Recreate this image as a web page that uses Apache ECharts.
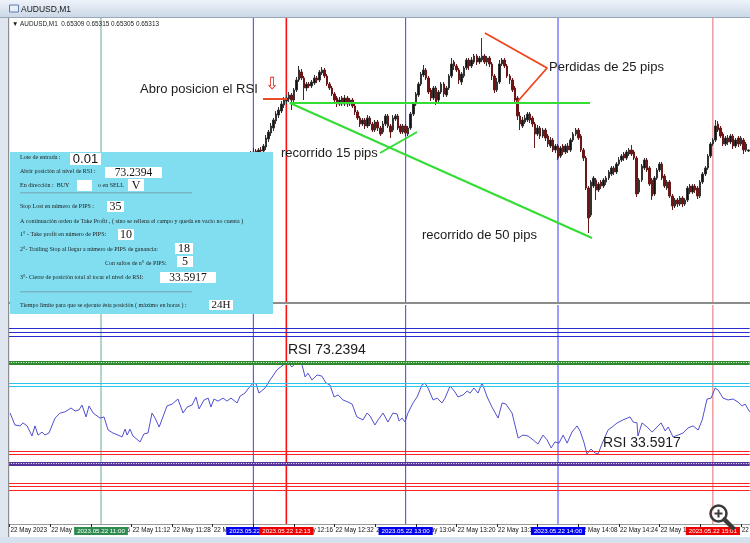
<!DOCTYPE html>
<html><head><meta charset="utf-8">
<script src="https://cdn.jsdelivr.net/npm/echarts@6/dist/echarts.min.js"></script>
<style>html,body{margin:0;padding:0;background:#fff}#c{width:750px;height:543px}</style>
</head><body><div id="c"></div><script>
// ---------- DATA ----------
// M1 categories from 10:24 to 15:15
const firstMinute = 10 * 60 + 24;
const minuteCount = 292;
const pad = n => (n < 10 ? '0' : '') + n;
const categories = [];
for (let i = 0; i < minuteCount; i++) { const t = firstMinute + i; categories.push(pad(Math.floor(t / 60)) + ':' + pad(t % 60)); }
const firstDateLabel = '22 May 2023';
const dayPrefix = '22 May ';

// Candles from 11:57, [open, close, low, high] in points (1e-5)
const candleStart = '11:57';
const ohlc = [
[65273,65281,65257,65293],[65281,65289,65269,65301],[65289,65297,65277,65309],[65293,65305,65281,65321],
[65309,65301,65289,65317],[65301,65313,65293,65321],[65313,65309,65297,65325],[65309,65329,65301,65337],
[65325,65361,65313,65373],[65357,65385,65345,65393],[65381,65409,65369,65421],[65401,65433,65389,65441],
[65429,65457,65417,65469],[65453,65473,65441,65485],[65469,65497,65461,65509],[65493,65513,65481,65525],
[65509,65521,65497,65533],[65517,65533,65505,65545],[65533,65513,65473,65541],[65513,65553,65505,65561],
[65553,65593,65545,65605],[65593,65633,65585,65649],[65625,65601,65593,65637],[65601,65561,65513,65609],
[65561,65577,65549,65585],[65577,65569,65561,65585],[65569,65585,65561,65593],[65581,65601,65573,65613],
[65601,65593,65581,65609],[65593,65625,65585,65633],[65621,65633,65613,65645],[65633,65609,65601,65641],
[65609,65577,65569,65617],[65577,65561,65553,65585],[65561,65537,65529,65569],[65537,65513,65505,65545],
[65521,65497,65485,65529],[65497,65513,65489,65525],[65521,65497,65489,65529],[65497,65521,65489,65533],
[65521,65497,65485,65529],[65497,65513,65489,65521],[65513,65489,65481,65521],[65489,65465,65453,65497],
[65465,65441,65433,65473],[65441,65417,65405,65449],[65417,65433,65409,65441],[65433,65409,65397,65441],
[65409,65441,65401,65453],[65441,65417,65409,65449],[65417,65393,65385,65425],[65393,65425,65385,65433],
[65425,65401,65389,65433],[65401,65377,65369,65409],[65385,65417,65377,65429],[65417,65449,65409,65457],
[65449,65409,65401,65457],[65409,65385,65361,65417],[65393,65441,65385,65453],[65437,65449,65429,65457],
[65449,65401,65393,65457],[65409,65385,65377,65417],[65385,65409,65377,65417],[65409,65381,65369,65417],
[65377,65401,65369,65409],[65401,65457,65393,65465],[65457,65497,65449,65505],[65497,65537,65489,65545],
[65533,65577,65525,65585],[65577,65617,65569,65625],[65613,65633,65605,65653],[65633,65601,65593,65641],
[65601,65545,65537,65609],[65553,65521,65509,65561],[65521,65561,65513,65569],[65561,65505,65493,65569],
[65513,65545,65505,65553],[65545,65577,65537,65585],[65577,65537,65525,65585],[65533,65561,65525,65569],
[65561,65609,65553,65617],[65609,65657,65601,65681],[65665,65649,65633,65673],[65649,65633,65625,65657],
[65633,65593,65577,65641],[65585,65617,65573,65625],[65609,65641,65601,65649],[65641,65673,65633,65681],
[65673,65649,65633,65681],[65649,65673,65641,65685],[65665,65689,65657,65697],[65689,65665,65653,65697],
[65665,65681,65657,65689],[65673,65689,65665,65761],[65689,65665,65657,65697],[65665,65681,65649,65689],
[65681,65657,65645,65689],[65657,65609,65593,65665],[65609,65553,65541,65617],[65553,65585,65545,65601],
[65585,65657,65577,65673],[65657,65673,65649,65681],[65673,65649,65641,65681],[65649,65609,65601,65657],
[65609,65593,65577,65617],[65593,65553,65545,65601],[65561,65513,65501,65569],[65521,65449,65433,65529],
[65449,65417,65393,65465],[65409,65433,65401,65445],[65425,65441,65417,65453],[65433,65457,65425,65465],
[65457,65433,65421,65465],[65441,65417,65405,65449],[65417,65377,65321,65425],[65377,65401,65369,65413],
[65401,65369,65357,65409],[65369,65393,65361,65401],[65393,65361,65349,65401],[65369,65337,65325,65377],
[65329,65353,65321,65365],[65353,65313,65305,65361],[65313,65329,65301,65337],[65329,65281,65273,65337],
[65289,65321,65281,65329],[65329,65305,65293,65337],[65305,65329,65297,65337],[65329,65313,65301,65341],
[65313,65353,65305,65361],[65353,65377,65345,65385],[65377,65393,65369,65401],[65393,65361,65353,65401],
[65369,65313,65305,65377],[65313,65281,65269,65321],[65281,65161,65153,65289],[65161,65041,64981,65169],
[65053,65185,65045,65193],[65169,65201,65161,65209],[65193,65153,65113,65201],[65153,65177,65145,65185],
[65185,65169,65157,65193],[65169,65193,65161,65201],[65185,65201,65173,65209],[65201,65225,65193,65233],
[65217,65241,65209,65249],[65241,65225,65213,65249],[65225,65257,65217,65265],[65257,65273,65249,65285],
[65273,65289,65265,65297],[65297,65281,65269,65305],[65281,65305,65273,65313],[65297,65313,65289,65321],
[65313,65297,65289,65333],[65305,65281,65273,65313],[65281,65137,65125,65289],[65145,65193,65137,65201],
[65193,65249,65185,65257],[65241,65273,65233,65281],[65273,65233,65225,65281],[65241,65177,65169,65249],
[65193,65129,65113,65201],[65137,65201,65129,65209],[65201,65233,65193,65241],[65233,65257,65225,65265],
[65257,65201,65193,65265],[65209,65169,65161,65217],[65161,65185,65153,65193],[65185,65129,65121,65193],
[65129,65089,65073,65137],[65089,65113,65081,65121],[65113,65097,65085,65121],[65097,65121,65089,65129],
[65121,65097,65085,65129],[65097,65113,65089,65121],[65113,65161,65105,65169],[65169,65145,65137,65177],
[65145,65169,65137,65177],[65169,65153,65141,65177],[65161,65129,65117,65169],[65129,65185,65121,65193],
[65185,65217,65177,65225],[65217,65241,65209,65249],[65241,65289,65233,65297],[65289,65337,65281,65345],
[65337,65353,65329,65361],[65353,65409,65345,65433],[65417,65393,65385,65429],[65401,65369,65361,65409],
[65377,65337,65329,65385],[65337,65361,65329,65369],[65361,65345,65333,65373],[65345,65369,65337,65377],
[65369,65329,65317,65377],[65329,65353,65321,65361],[65361,65337,65325,65369],[65337,65361,65329,65369],
[65353,65313,65297,65361],[65313,65337,65305,65345],[65309,65313,65305,65315]
];

// RSI line vertices: time in minutes after 10:00, RSI value
const rsiTime = [24.2,26.1,28.1,29.3,30.9,32.8,34.0,35.2,36.8,37.9,39.5,41.9,43.9,45.8,48.2,49.8,51.3,52.5,54.1,55.3,
56.9,59.6,61.2,62.8,64.7,66.7,68.3,69.5,70.3,71.4,72.6,75.4,76.9,78.5,80.1,81.3,82.9,84.4,86.0,88.0,
90.3,92.3,93.9,95.9,97.4,98.6,100.6,102.2,103.3,104.5,106.1,108.1,109.6,111.2,113.6,114.8,116.7,117.9,119.9,121.1,
122.2,124.6,126.6,129.3,131.7,133.3,135.2,137.6,139.2,140.4,141.5,143.1,145.1,147.0,148.6,150.2,151.8,153.4,155.3,157.3,
158.9,160.8,163.2,164.8,166.0,167.9,169.1,171.1,173.0,175.0,176.6,177.4,178.6,179.7,180.9,182.9,184.5,186.4,187.6,188.8,
190.8,192.4,194.3,195.5,197.5,199.4,200.6,202.6,204.2,205.4,206.9,208.5,210.1,212.1,214.0,216.4,218.0,219.5,221.9,224.3,
226.2,228.2,230.2,232.1,234.1,235.7,237.3,238.8,240.4,242.0,243.6,245.5,247.5,248.7,250.3,251.4,253.0,254.6,255.8,257.3,
259.7,261.3,263.3,265.6,268.4,269.6,271.1,271.5,273.1,275.1,277.1,279.0,280.6,282.2,283.4,285.3,287.3,289.3,291.2,293.2,
295.2,296.8,298.7,300.3,301.9,303.1,305.0,307.0,309.0,310.9,312.5,313.7,315.5];
const rsiValue = [51.0,45.8,45.4,46.7,45.4,41.0,45.4,41.4,42.7,41.4,42.3,48.8,51.0,51.5,53.2,51.9,52.3,54.5,49.3,54.1,
51.0,48.8,49.3,43.6,42.3,41.4,40.6,44.0,41.4,44.0,41.0,38.4,41.9,42.3,51.0,48.8,44.9,49.3,54.1,54.9,
57.1,51.0,53.6,54.5,58.0,52.8,56.7,57.5,53.6,57.1,56.2,57.5,56.2,57.5,55.4,58.4,59.7,61.5,64.1,63.7,
59.7,61.9,65.4,69.8,71.9,73.24,71.1,73.7,71.9,66.7,68.4,65.4,67.6,67.1,64.1,63.2,58.0,58.9,56.7,55.8,
54.9,49.3,48.0,51.0,49.7,45.8,48.0,51.0,47.1,51.0,50.6,47.5,48.8,47.1,51.0,55.4,58.0,63.2,64.1,61.9,
56.7,57.5,55.4,57.5,62.8,60.2,58.0,58.9,60.6,59.7,61.9,59.7,64.1,58.0,53.6,48.8,55.4,54.9,51.0,40.1,
41.4,41.0,39.3,37.5,41.4,39.3,35.8,38.4,37.9,41.4,37.9,42.7,45.4,43.2,37.9,33.2,35.3,33.6,33.2,37.5,
43.6,44.9,46.7,48.0,49.3,47.1,46.7,41.0,46.7,44.9,42.7,44.9,46.7,43.2,44.9,40.6,41.4,42.3,44.5,45.4,
43.6,48.0,57.1,57.5,61.9,61.0,57.5,56.7,57.1,55.8,54.1,54.9,51.5];

// RSI horizontal levels
const blueLevels = [87.9, 86.1, 84.4];
const greenDottedLevel = 73.1;
const cyanLevels = [64.0, 62.6];
const redLevels = [34.5, 33.0];
const purpleDottedLevel = 29.0;
const redLowLevels = [20.5, 18.9, 17.3];

// vertical time markers: minutes after 10:00 and their labels
const markTimes = [60, 120, 180, 240, 133, 301];
const markLabels = ['2023.05.22 11:00', '2023.05.22 12:00', '2023.05.22 13:00', '2023.05.22 14:00', '2023.05.22 12:13', '2023.05.22 15:01'];

// drawn trend lines: [minutes after 10:00, price points]
const entryLevelLine = [[134.4, 65501], [252.6, 65501]];
const run50Line = [[134.4, 65501], [253.4, 64961]];
const run15Line = [[169.9, 65301], [184.5, 65385]];
const entryTick = [[123.8, 65517], [133.3, 65517]];
const lossLine = [[211.2, 65781], [235.7, 65641], [223.9, 65505]];

// ---------- CHART ----------
const startIdx = categories.indexOf(candleStart);
const candleData = categories.map((c, i) => (i < startIdx || i - startIdx >= ohlc.length) ? '-' : ohlc[i - startIdx].map(v => v / 1e5));
const toPrice = arr => arr.map(p => [p[0], p[1] / 1e5]);
const rsiData = rsiTime.map((t, i) => [t, rsiValue[i]]);

const gridLeft = 8.33, gridWidth = 741.36;
const tMin = 23.5, tMax = 315.5;
const priceMin = 0.64701, priceMax = 0.65841;
const rsiMin = 2.65, rsiMax = 98.08;

const markStyle = [
  { line: '#6aa888', box: '#2e8b4f', w: 1 },
  { line: '#3c3cff', box: '#0000ee', w: 1 },
  { line: '#3c3cff', box: '#0000ee', w: 1 },
  { line: '#3c3cff', box: '#0000ee', w: 1 },
  { line: '#ff1010', box: '#ee0000', w: 1.6 },
  { line: '#e86a6a', box: '#ee0000', w: 1 }
];

function hl(v, color, width, type) { return { yAxis: v, lineStyle: { color, width, type: type || 'solid' } }; }

const rsiMarks = [];
blueLevels.forEach(v => rsiMarks.push(hl(v, '#2a2ad0', 1.2)));
rsiMarks.push(hl(greenDottedLevel, '#2d8a2d', 4));
rsiMarks.push(hl(greenDottedLevel, '#ffffff', 1, [1, 1.5]));
cyanLevels.forEach(v => rsiMarks.push(hl(v, '#2cc4ee', 1.2)));
redLevels.forEach(v => rsiMarks.push(hl(v, '#ff2222', 1.2)));
rsiMarks.push(hl(purpleDottedLevel, '#553399', 4));
rsiMarks.push(hl(purpleDottedLevel, '#ffffff', 1, [1, 1.5]));
redLowLevels.forEach(v => rsiMarks.push(hl(v, '#ff2222', 1.2)));

// vertical marker lines as small series in each panel
const verticalSeries = [];
markTimes.forEach((t, k) => {
  const s = markStyle[k];
  verticalSeries.push({ type: 'line', xAxisIndex: 1, yAxisIndex: 0, data: [[t, priceMin], [t, priceMax]], symbol: 'none',
    silent: true, z: 2, lineStyle: { color: s.line, width: s.w } });
  verticalSeries.push({ type: 'line', xAxisIndex: 3, yAxisIndex: 1, data: [[t, rsiMin], [t, rsiMax]], symbol: 'none',
    silent: true, z: 2 + (k >= 4 ? 1 : 0), lineStyle: { color: s.line, width: s.w },
    markPoint: { silent: true, symbol: 'rect', symbolSize: 0,
      data: [{ coord: [t, rsiMin], label: { show: true, position: 'bottom', distance: 3, formatter: markLabels[k],
        color: '#fff', backgroundColor: s.box, padding: [1, 3, 1, 3], fontSize: 6.2, fontFamily: 'Liberation Sans' } }] } });
});

function annot(data, color, width) {
  return { type: 'line', xAxisIndex: 1, yAxisIndex: 0, data: toPrice(data), symbol: 'none', silent: true,
    lineStyle: { color, width }, z: 5, animation: false };
}

const F = '"Liberation Sans", Arial, sans-serif';
const SERIF = '"Liberation Serif", "Times New Roman", serif';
function txt(text, x, y, size, family, color, align, z) {
  return { type: 'text', z: z || 210, silent: true,
    style: { text, x, y, font: size + 'px ' + family, fill: color || '#111', align: align || 'left', verticalAlign: 'middle' } };
}

// info panel (drawn UI element)
const panel = [
  { type: 'rect', z: 200, silent: true, shape: { x: 10, y: 152, width: 263, height: 162 }, style: { fill: '#80def0' } },
  { type: 'rect', z: 205, silent: true, shape: { x: 20, y: 192.5, width: 172, height: 0.8 }, style: { fill: '#6f8f98' } },
  { type: 'rect', z: 205, silent: true, shape: { x: 20, y: 291.5, width: 172, height: 0.8 }, style: { fill: '#6f8f98' } },
  txt('Lote de entrada :', 20, 157, 6, SERIF, '#222'),
  txt('Abrir posición al nivel de RSI :', 20, 171, 6, SERIF, '#222'),
  txt('En dirección :  BUY', 20, 185, 6, SERIF, '#222'),
  txt('o en SELL', 98, 185, 6, SERIF, '#222'),
  txt('Stop Lost en número de PIPS :', 20, 206, 6, SERIF, '#222'),
  txt('A continuación orden de Take Profit , ( sino se rellena el campo y queda en vacio no cuenta )', 20, 221, 6, SERIF, '#222'),
  txt('1° - Take profit en número de PIPS:', 20, 234, 6, SERIF, '#222'),
  txt('2°- Trailing Stop al llegar a número de PIPS de ganancia:', 20, 249, 6, SERIF, '#222'),
  txt('Con saltos de n° de PIPS:', 105, 263, 6, SERIF, '#222'),
  txt('3°- Cierre de posición total al tocar el nivel de RSI:', 20, 277, 6, SERIF, '#222'),
  txt('Tiempo limite para que se ejecute ésta posición ( máximo en horas ) :', 20, 305, 6, SERIF, '#222')
];
[[70,153,31,12,'0.01',13],[105,167,57,11,'73.2394',11.5],[77,180,15,11,'',11],[128,179,16,12,'V',12],
 [107,201,17,11,'35',12],[118,229,16,11,'10',12],[175,243,18,11,'18',12],[177,256,16,11,'5',12],
 [160,272,56,11,'33.5917',11.5],[209,300,24,10,'24H',11]].forEach(b => {
  panel.push({ type: 'rect', z: 205, silent: true, shape: { x: b[0], y: b[1], width: b[2], height: b[3] }, style: { fill: '#ffffff' } });
  if (b[4]) panel.push(txt(b[4], b[0] + b[2] / 2, b[1] + b[3] / 2 + 0.5, b[5], b[4] === '0.01' ? F : SERIF, '#111', 'center'));
});

const chrome = [
  { type: 'rect', z: 220, silent: true, shape: { x: 0, y: 0, width: 750, height: 17 },
    style: { fill: new echarts.graphic.LinearGradient(0, 0, 0, 1, [{ offset: 0, color: '#eef3f9' }, { offset: 1, color: '#cbd8e8' }]) } },
  { type: 'rect', z: 220, silent: true, shape: { x: 0, y: 17, width: 750, height: 1 }, style: { fill: '#99a7b9' } },
  { type: 'rect', z: 221, silent: true, shape: { x: 9.5, y: 5, width: 9, height: 7 }, style: { fill: '#e6eefa', stroke: '#5f7fa8', lineWidth: 1 } },
  txt('AUDUSD,M1', 21, 9.5, 8.5, F, '#151515', 'left', 225),
  { type: 'rect', z: 220, silent: true, shape: { x: 0, y: 18, width: 9, height: 525 }, style: { fill: '#dfe6ef' } },
  { type: 'rect', z: 220, silent: true, shape: { x: 8, y: 18, width: 1.2, height: 519 }, style: { fill: '#8e8e8e' } },
  { type: 'rect', z: 220, silent: true, shape: { x: 0, y: 537, width: 750, height: 6 }, style: { fill: '#d6e2ef' } },
  { type: 'rect', z: 150, silent: true, shape: { x: 9, y: 302, width: 741, height: 2 }, style: { fill: '#8c8c8c' } },
  txt('▼ AUDUSD,M1  0.65309 0.65315 0.65305 0.65313', 12, 24.5, 6.4, F, '#1a1a1a'),
  // annotation texts
  txt('Abro posicion el RSI', 140, 89, 13, F, '#1c1c1c'),
  txt('⇩', 272, 85, 17, '"DejaVu Sans"', '#e0301e', 'center'),
  txt('recorrido 15 pips', 281, 153, 13, F, '#1c1c1c'),
  txt('Perdidas de 25 pips', 549, 67, 13, F, '#1c1c1c'),
  txt('recorrido de 50 pips', 422, 235, 13, F, '#1c1c1c'),
  txt('RSI 73.2394', 288, 350, 14, F, '#1c1c1c'),
  txt('RSI 33.5917', 603, 443, 14, F, '#1c1c1c'),
  // zoom icon
  { type: 'circle', z: 230, silent: true, shape: { cx: 718.5, cy: 513.5, r: 8 }, style: { fill: 'rgba(255,255,255,0.7)', stroke: '#3a3a3a', lineWidth: 2.5 } },
  { type: 'line', z: 230, silent: true, shape: { x1: 724.5, y1: 519.5, x2: 733, y2: 528 }, style: { stroke: '#3a3a3a', lineWidth: 4.5, lineCap: 'round' } },
  { type: 'line', z: 231, silent: true, shape: { x1: 714.5, y1: 513.5, x2: 722.5, y2: 513.5 }, style: { stroke: '#3a3a3a', lineWidth: 2 } },
  { type: 'line', z: 231, silent: true, shape: { x1: 718.5, y1: 509.5, x2: 718.5, y2: 517.5 }, style: { stroke: '#3a3a3a', lineWidth: 2 } }
];

const hiddenValueX = (grid) => ({ type: 'value', gridIndex: grid, min: tMin, max: tMax, show: false,
  splitLine: { show: false }, axisLine: { show: false }, axisTick: { show: false }, axisLabel: { show: false } });

const chart = echarts.init(document.getElementById('c'), null, { renderer: 'canvas' });
chart.setOption({
  animation: false,
  backgroundColor: '#ffffff',
  grid: [
    { left: gridLeft, width: gridWidth, top: 18, height: 285, containLabel: false, outerBoundsMode: 'none' },
    { left: gridLeft, width: gridWidth, top: 305, height: 219, containLabel: false, outerBoundsMode: 'none' }
  ],
  xAxis: [
    { type: 'category', gridIndex: 0, data: categories, show: false, boundaryGap: true, splitLine: { show: false } },
    hiddenValueX(0),
    { type: 'category', gridIndex: 1, data: categories, boundaryGap: true,
      axisLine: { show: true, lineStyle: { color: '#9a9a9a', width: 1 } },
      axisTick: { show: true, alignWithLabel: true, length: 3, interval: (i) => i % 16 === 0, lineStyle: { color: '#222' } },
      axisLabel: { show: true, interval: (i) => i % 16 === 0, align: 'left', margin: 3, padding: [0, 0, 0, 1],
        fontSize: 6.3, fontFamily: 'Liberation Sans', color: '#111', hideOverlap: false,
        formatter: (v, i) => i === 0 ? firstDateLabel : dayPrefix + v },
      splitLine: { show: false } },
    hiddenValueX(1)
  ],
  yAxis: [
    { type: 'value', gridIndex: 0, min: priceMin, max: priceMax, show: false, splitLine: { show: false } },
    { type: 'value', gridIndex: 1, min: rsiMin, max: rsiMax, show: false, splitLine: { show: false } }
  ],
  series: [
    { type: 'candlestick', xAxisIndex: 0, yAxisIndex: 0, data: candleData, barWidth: 2, silent: true,
      itemStyle: { color: '#111111', color0: '#741212', borderColor: '#333333', borderColor0: '#681818', borderWidth: 1 }, z: 3 },
    ...verticalSeries,
    annot(entryTick, '#ea4a24', 2),
    annot(entryLevelLine, '#33dd33', 2),
    annot(run50Line, '#33dd33', 2),
    annot(run15Line, '#33dd33', 2),
    annot(lossLine, '#f0441c', 1.8),
    { type: 'line', xAxisIndex: 3, yAxisIndex: 1, data: rsiData, showSymbol: false, symbol: 'none', silent: true,
      lineStyle: { color: '#5050d0', width: 1 }, z: 4,
      markLine: { silent: true, symbol: ['none', 'none'], animation: false, label: { show: false }, data: rsiMarks } }
  ],
  graphic: [...chrome, ...panel]
});
</script></body></html>
